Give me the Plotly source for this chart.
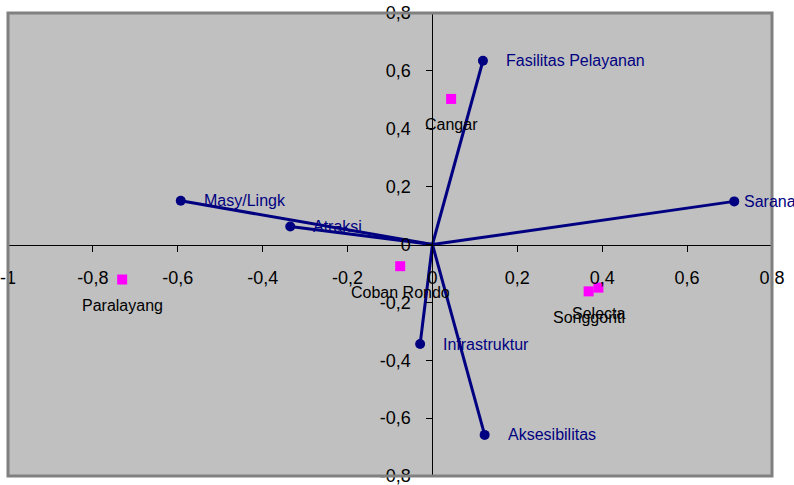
import plotly.graph_objects as go

# Variable vectors (loadings)
var_names = ["Fasilitas Pelayanan", "Sarana", "Masy/Lingk", "Atraksi", "Infrastruktur", "Aksesibilitas"]
var_x = [0.119, 0.711, -0.593, -0.335, -0.029, 0.123]
var_y = [0.635, 0.149, 0.151, 0.062, -0.344, -0.658]

# Objects (scores)
obj_names = ["Cangar", "Paralayang", "Coban Rondo", "Songgoriti", "Selecta"]
obj_x = [0.044, -0.731, -0.076, 0.368, 0.391]
obj_y = [0.503, -0.121, -0.075, -0.162, -0.149]

# Axis ticks
x_range = [-1.0, 0.8]
y_range = [-0.8, 0.8]
x_tickvals = [-1.0, -0.8, -0.6, -0.4, -0.2, 0.0, 0.2, 0.4, 0.6, 0.8]
x_ticktext = ["-1", "-0,8", "-0,6", "-0,4", "-0,2", "0", "0,2", "0,4", "0,6", "0,8"]
y_tickvals = [-0.8, -0.6, -0.4, -0.2, 0.0, 0.2, 0.4, 0.6, 0.8]
y_ticktext = ["-0,8", "-0,6", "-0,4", "-0,2", "0", "0,2", "0,4", "0,6", "0,8"]

NAVY = "#000080"
FONT = "Liberation Sans, Arial, sans-serif"

fig = go.Figure()

# Vector lines from origin
lx, ly = [], []
for vx, vy in zip(var_x, var_y):
    lx += [0, vx, None]
    ly += [0, vy, None]
fig.add_trace(go.Scatter(x=lx, y=ly, mode="lines",
                         line=dict(color=NAVY, width=3), hoverinfo="skip"))
fig.add_trace(go.Scatter(x=var_x, y=var_y, mode="markers",
                         marker=dict(color=NAVY, size=10, symbol="circle"),
                         text=var_names, hoverinfo="text"))
fig.add_trace(go.Scatter(x=obj_x, y=obj_y, mode="markers",
                         marker=dict(color="#FF00FF", size=10, symbol="square",
                                     line=dict(width=0)),
                         text=obj_names, hoverinfo="text"))

# Vector labels (right of the dot)
for name, vx, vy in zip(var_names, var_x, var_y):
    shift = 8 if name == "Sarana" else 21
    fig.add_annotation(x=vx, y=vy, text=name, showarrow=False, xanchor="left",
                       yanchor="middle", xshift=shift,
                       font=dict(family=FONT, size=16, color=NAVY))

# Object labels (below the square)
for name, ox, oy in zip(obj_names, obj_x, obj_y):
    fig.add_annotation(x=ox, y=oy, text=name, showarrow=False, xanchor="center",
                       yanchor="middle", yshift=-26,
                       font=dict(family=FONT, size=16, color="black"))

# Plot border
fig.add_shape(type="rect", xref="paper", yref="paper", x0=0, y0=0, x1=1, y1=1,
              line=dict(color="#808080", width=3), layer="above")

x_pos_of_yaxis = (0 - x_range[0]) / (x_range[1] - x_range[0])
y_pos_of_xaxis = (0 - y_range[0]) / (y_range[1] - y_range[0])

fig.update_layout(
    width=794, height=485,
    margin=dict(l=8, r=22, t=13, b=9, autoexpand=False),
    paper_bgcolor="white",
    plot_bgcolor="#C0C0C0",
    showlegend=False,
    font=dict(family=FONT, size=18, color="black"),
    xaxis=dict(range=x_range, anchor="free", position=y_pos_of_xaxis,
               automargin=False,
               showgrid=False, zeroline=False, showline=True,
               linecolor="black", linewidth=1,
               ticks="outside", ticklen=6, tickcolor="black",
               tickvals=x_tickvals, ticktext=x_ticktext,
               tickfont=dict(family=FONT, size=18, color="black"),
               ticklabelstandoff=11, ticklabeloverflow="allow"),
    yaxis=dict(range=y_range, anchor="free", position=x_pos_of_yaxis,
               automargin=False,
               showgrid=False, zeroline=False, showline=True,
               linecolor="black", linewidth=1,
               ticks="outside", ticklen=6, tickcolor="black",
               tickvals=y_tickvals, ticktext=y_ticktext,
               tickfont=dict(family=FONT, size=18, color="black"),
               ticklabelstandoff=12, ticklabeloverflow="allow"),
)

fig.write_html("out.html", config={"displayModeBar": False},
               post_script="document.body.style.margin='0';document.body.style.overflow='hidden';")
